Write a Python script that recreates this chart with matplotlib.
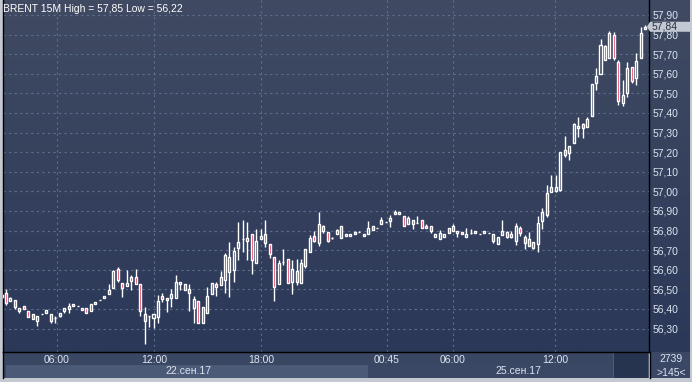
import numpy as np
import matplotlib
matplotlib.use('Agg')
import matplotlib.pyplot as plt
from matplotlib.patches import Rectangle, Polygon
from matplotlib.ticker import FuncFormatter

plt.rcParams['font.family'] = ['Liberation Sans', 'DejaVu Sans']

# %% data: BRENT 15M candles
opens = [56.46, 56.48, 56.44, 56.445, 56.39, 56.415, 56.39, 56.375, 56.34, 56.375,
         56.38, 56.375, 56.353, 56.365, 56.39, 56.40, 56.415, 56.414, 56.404, 56.404,
         56.391, 56.424, 56.446, 56.455, 56.475, 56.506, 56.604, 56.534, 56.516, 56.541,
         56.562, 56.528, 56.375, 56.364, 56.353, 56.36, 56.466, 56.455, 56.455, 56.455,
         56.528, 56.53, 56.502, 56.405, 56.442, 56.327, 56.381, 56.477, 56.528, 56.522,
         56.548, 56.664, 56.599, 56.713, 56.759, 56.749, 56.783, 56.636, 56.759, 56.783,
         56.732, 56.664, 56.528, 56.641, 56.653, 56.539, 56.594, 56.531, 56.619, 56.692,
         56.772, 56.738, 56.823, 56.791, 56.761, 56.781, 56.823, 56.772, 56.772, 56.791,
         56.791, 56.772, 56.781, 56.823, 56.813, 56.832, 56.844, 56.85, 56.885, 56.885,
         56.874, 56.832, 56.854, 56.84, 56.854, 56.823, 56.823, 56.769, 56.759, 56.769,
         56.789, 56.823, 56.786, 56.791, 56.769, 56.789, 56.80, 56.783, 56.789, 56.789,
         56.783, 56.73, 56.778, 56.791, 56.769, 56.749, 56.812, 56.769, 56.759, 56.713,
         56.73, 56.85, 56.88, 56.999, 57.0, 57.007, 57.186, 57.197, 57.248, 57.322,
         57.344, 57.33, 57.385, 57.555, 57.597, 57.742, 57.679, 57.798, 57.659, 57.449,
         57.5, 57.636, 57.577, 57.679, 57.83]
highs = [56.48, 56.50, 56.46, 56.445, 56.405, 56.415, 56.39, 56.375, 56.365, 56.375,
         56.395, 56.375, 56.364, 56.38, 56.405, 56.43, 56.425, 56.414, 56.404, 56.404,
         56.425, 56.436, 56.446, 56.466, 56.528, 56.60, 56.616, 56.534, 56.60, 56.573,
         56.604, 56.528, 56.412, 56.364, 56.375, 56.47, 56.483, 56.455, 56.50, 56.573,
         56.54, 56.53, 56.528, 56.466, 56.442, 56.409, 56.51, 56.531, 56.54, 56.594,
         56.687, 56.74, 56.718, 56.844, 56.854, 56.844, 56.783, 56.806, 56.806, 56.854,
         56.732, 56.664, 56.65, 56.705, 56.653, 56.65, 56.653, 56.653, 56.705, 56.775,
         56.80, 56.893, 56.83, 56.791, 56.765, 56.81, 56.823, 56.783, 56.783, 56.80,
         56.80, 56.783, 56.85, 56.823, 56.813, 56.871, 56.844, 56.88, 56.905, 56.896,
         56.874, 56.874, 56.854, 56.874, 56.854, 56.832, 56.823, 56.783, 56.803, 56.783,
         56.812, 56.834, 56.80, 56.791, 56.812, 56.81, 56.80, 56.783, 56.80, 56.789,
         56.783, 56.769, 56.854, 56.80, 56.80, 56.837, 56.823, 56.78, 56.791, 56.743,
         56.874, 56.914, 57.033, 57.084, 57.084, 57.2, 57.283, 57.232, 57.35, 57.378,
         57.35, 57.381, 57.546, 57.628, 57.776, 57.747, 57.818, 57.815, 57.67, 57.568,
         57.662, 57.636, 57.704, 57.84, 57.85]
lows = [56.45, 56.42, 56.44, 56.40, 56.38, 56.40, 56.36, 56.35, 56.315, 56.375,
        56.38, 56.33, 56.327, 56.36, 56.38, 56.38, 56.415, 56.414, 56.393, 56.381,
        56.391, 56.424, 56.446, 56.455, 56.475, 56.506, 56.54, 56.463, 56.516, 56.497,
        56.528, 56.364, 56.22, 56.31, 56.305, 56.327, 56.436, 56.385, 56.412, 56.455,
        56.497, 56.497, 56.391, 56.327, 56.33, 56.327, 56.381, 56.475, 56.466, 56.522,
        56.48, 56.46, 56.539, 56.65, 56.692, 56.65, 56.579, 56.636, 56.759, 56.718,
        56.659, 56.442, 56.528, 56.625, 56.531, 56.475, 56.522, 56.531, 56.61, 56.692,
        56.74, 56.723, 56.79, 56.74, 56.755, 56.781, 56.761, 56.772, 56.772, 56.781,
        56.791, 56.772, 56.781, 56.803, 56.813, 56.832, 56.844, 56.82, 56.885, 56.885,
        56.823, 56.832, 56.81, 56.84, 56.812, 56.812, 56.789, 56.769, 56.759, 56.769,
        56.789, 56.80, 56.769, 56.781, 56.769, 56.783, 56.789, 56.783, 56.789, 56.789,
        56.735, 56.73, 56.778, 56.76, 56.76, 56.727, 56.772, 56.705, 56.72, 56.705,
        56.692, 56.81, 56.871, 56.999, 56.995, 57.0, 57.177, 57.16, 57.245, 57.279,
        57.271, 57.33, 57.385, 57.517, 57.597, 57.67, 57.679, 57.67, 57.441, 57.436,
        57.48, 57.555, 57.543, 57.679, 57.83]
closes = [56.47, 56.43, 56.455, 56.41, 56.405, 56.40, 56.36, 56.35, 56.365, 56.375,
          56.395, 56.34, 56.353, 56.38, 56.405, 56.415, 56.425, 56.414, 56.393, 56.381,
          56.425, 56.436, 56.446, 56.466, 56.497, 56.594, 56.548, 56.507, 56.534, 56.562,
          56.528, 56.391, 56.34, 56.364, 56.375, 56.442, 56.453, 56.444, 56.477, 56.54,
          56.54, 56.497, 56.483, 56.451, 56.33, 56.409, 56.466, 56.531, 56.514, 56.562,
          56.676, 56.59, 56.696, 56.74, 56.759, 56.764, 56.65, 56.749, 56.772, 56.738,
          56.681, 56.514, 56.636, 56.641, 56.531, 56.603, 56.539, 56.633, 56.705, 56.761,
          56.749, 56.834, 56.80, 56.749, 56.761, 56.803, 56.761, 56.783, 56.783, 56.781,
          56.791, 56.783, 56.812, 56.803, 56.813, 56.854, 56.844, 56.863, 56.896, 56.896,
          56.823, 56.863, 56.832, 56.84, 56.812, 56.812, 56.80, 56.783, 56.786, 56.783,
          56.812, 56.80, 56.80, 56.781, 56.783, 56.789, 56.789, 56.783, 56.80, 56.789,
          56.749, 56.769, 56.80, 56.766, 56.783, 56.823, 56.789, 56.738, 56.721, 56.743,
          56.84, 56.895, 56.99, 57.021, 57.021, 57.2, 57.211, 57.232, 57.344, 57.334,
          57.322, 57.369, 57.546, 57.589, 57.747, 57.67, 57.807, 57.679, 57.461, 57.492,
          57.628, 57.563, 57.667, 57.81, 57.84]

price_ticks = [56.3, 56.4, 56.5, 56.6, 56.7, 56.8, 56.9, 57.0, 57.1, 57.2, 57.3,
               57.4, 57.5, 57.6, 57.7, 57.8, 57.9]
time_pos = [12.4, 34.1, 58.05, 86.2, 101.0, 123.8]  # bar index of each time label
time_labels = ['06:00', '12:00', '18:00', '00:45', '06:00', '12:00']
day_labels = ['22.сен.17', '25.сен.17']
last_price = 57.84
bars_total = 2739
bars_shown = 145

FS = 7.5
TXT = '#dce4f0'

# %% layout helpers (pixel -> figure fraction)
W, H = 692, 382
def fx(x): return x / W
def fy(y): return 1 - y / H
def rect(x0, y0, x1, y1, color):
    fig.patches.append(Rectangle((fx(x0), fy(y1)), (x1 - x0) / W, (y1 - y0) / H,
                                 transform=fig.transFigure, facecolor=color,
                                 edgecolor='none', zorder=-5))
def comma(v):
    return f'{v:.2f}'.replace('.', ',')

fig = plt.figure(figsize=(6.92, 3.82), dpi=100, facecolor='#c4c8d0')

# gradient background behind plot + price scale
bg = fig.add_axes([fx(3), fy(352), (690 - 3) / W, 352 / H], zorder=-10)
grad = np.linspace(0, 1, 256)
top = np.array([64, 74, 98]) / 255
bot = np.array([43, 56, 88]) / 255
img = top + (bot - top) * grad[:, None]
bg.imshow(img.reshape(256, 1, 3), aspect='auto', extent=[0, 1, 0, 1])
bg.axis('off')

# bottom panels
rect(3, 352, 649, 365, '#3a4763')
rect(3, 365, 649, 378, '#3b4865')
rect(6, 365, 368, 378, '#4b5a77')
rect(613, 353, 649, 378, '#4e5b76')
rect(614, 353, 648, 378, '#27344f')
rect(650, 352, 690, 378, '#3b4865')
rect(658, 365.5, 684, 366.3, '#8892a6')

ax = fig.add_axes([fx(3), fy(352), (649 - 3) / W, 352 / H])
ax.set_facecolor('none')

x = np.arange(len(opens))
o = np.array(opens); c = np.array(closes); h = np.array(highs); l = np.array(lows)
top_b = np.maximum(o, c); bot_b = np.minimum(o, c)
ax.vlines(x, top_b, h, color='white', lw=1, zorder=3)
ax.vlines(x, l, bot_b, color='white', lw=1, zorder=3)
up = c >= o
ax.bar(x[up], (top_b - bot_b)[up], bottom=bot_b[up], width=0.45,
       facecolor='none', edgecolor='white', lw=1, zorder=4)
ax.bar(x[~up], (top_b - bot_b)[~up], bottom=bot_b[~up], width=0.45,
       facecolor='#dc143c', edgecolor='white', lw=1, zorder=4)

ax.set_xlim(0.33, 144.85)
ax.set_ylim(56.1806, 57.9765)

ax.set_yticks(price_ticks)
ax.yaxis.set_major_formatter(FuncFormatter(lambda v, p: comma(v)))
ax.tick_params(axis='y', left=False, labelleft=False, right=True, labelright=True,
               length=0, pad=2.5, labelsize=FS, labelcolor=TXT)
ax.set_xticks(time_pos)
ax.set_xticklabels(time_labels)
ax.tick_params(axis='x', length=0, pad=2, labelsize=FS, labelcolor=TXT)
ax.grid(True, color='#5f6e8e', lw=0.8, linestyle=(0, (2, 3)))
ax.set_axisbelow(True)
ax.spines['top'].set_visible(False)
for s in ['left', 'right', 'bottom']:
    ax.spines[s].set_color('black')
    ax.spines[s].set_linewidth(1)

# separators continue into the bottom panel
for xs in (2.5, 649.5):
    fig.lines.append(plt.Line2D([fx(xs), fx(xs)], [fy(352), fy(378)],
                                transform=fig.transFigure, color='black', lw=1))

# texts
fig.text(fx(3), fy(9), 'BRENT 15M High = %s Low = %s' % (comma(max(highs)), comma(min(lows))),
         color='white', fontsize=FS, va='center', ha='left')
fig.text(fx(188), fy(371.5), day_labels[0], color=TXT, fontsize=FS, ha='center', va='center')
fig.text(fx(518), fy(371.5), day_labels[1], color=TXT, fontsize=FS, ha='center', va='center')
fig.text(fx(671), fy(359), str(bars_total), color=TXT, fontsize=FS, ha='center', va='center')
fig.text(fx(671), fy(372.5), '>%d<' % bars_shown, color=TXT, fontsize=FS,
         ha='center', va='center')

# last price tag
fig.canvas.draw()
ytag = ax.transData.transform((0, last_price))[1]
tag_y = fig.transFigure.inverted().transform((0, ytag))[1]
th = 10 / H
fig.patches.append(Polygon([[fx(647), tag_y], [fx(650), tag_y + th / 2],
                            [fx(690), tag_y + th / 2], [fx(690), tag_y - th / 2],
                            [fx(650), tag_y - th / 2]], closed=True,
                           transform=fig.transFigure, facecolor='#c3c9d3',
                           edgecolor='none', zorder=5))
fig.text(fx(652), tag_y, comma(last_price), color='#2a3040',
         fontsize=FS, ha='left', va='center', zorder=6)

plt.savefig('out.png', dpi=100, facecolor=fig.get_facecolor())
